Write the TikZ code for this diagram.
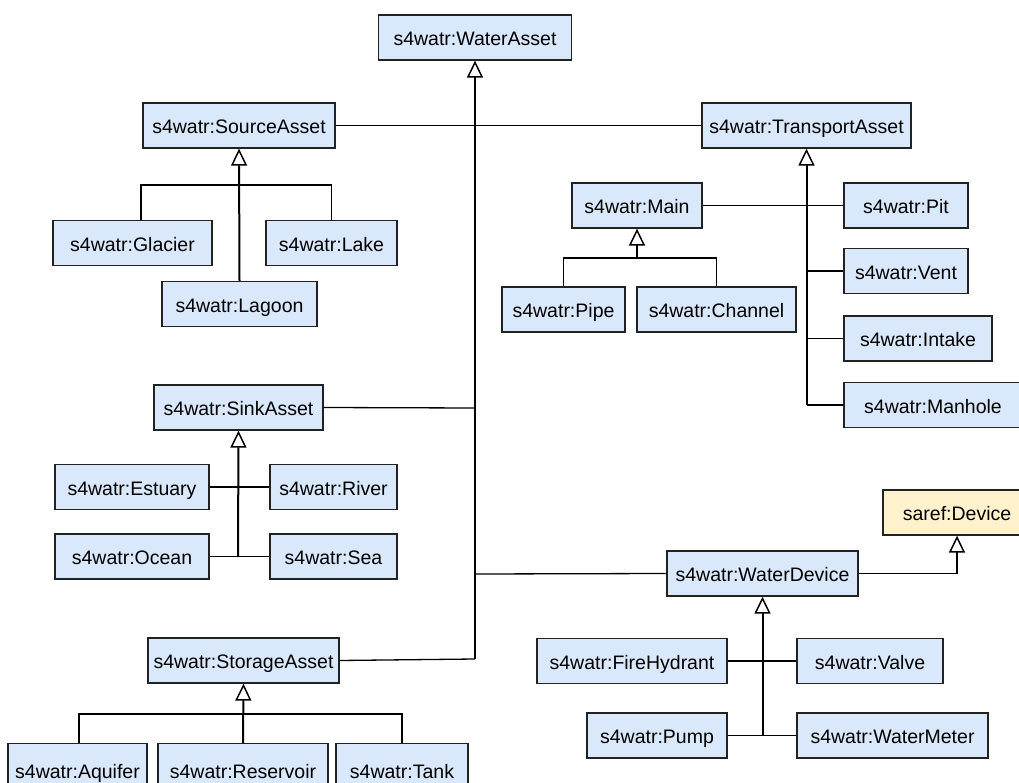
\documentclass[tikz,border=0pt]{standalone}
\usepackage{fontspec}
\setmainfont{Liberation Sans}
\usetikzlibrary{arrows.meta}
\definecolor{blueF}{HTML}{DAE8FC}
\definecolor{yelF}{HTML}{FFF2CC}
\definecolor{strk}{HTML}{222222}
\tikzset{
  cls/.style={draw=strk, fill=blueF, line width=1.3pt, inner sep=0pt, minimum height=45pt,
    text height=19.5pt, text depth=3pt, font=\fontsize{19.5}{22}\selectfont},
  ext/.style={cls, fill=yelF},
  conn/.style={draw=black, line width=1.3pt},
  gen/.style={draw=black, line width=2pt, -{Triangle[fill=white, length=17pt, width=16pt, line width=1.5pt]}},
}
\begin{document}
\begin{tikzpicture}[x=1pt, y=-1pt]
\useasboundingbox (0,0) rectangle (1019,783);
% nodes
\node[cls, minimum width=193] (wa) at (475,37.5) {s4watr:WaterAsset};
\node[cls, minimum width=192] (src) at (239,125.5) {s4watr:SourceAsset};
\node[cls, minimum width=209] (tr) at (806.5,125.5) {s4watr:TransportAsset};
\node[cls, minimum width=159] (glacier) at (132.5,243) {s4watr:Glacier};
\node[cls, minimum width=131] (lake) at (331.5,243) {s4watr:Lake};
\node[cls, minimum width=155] (lagoon) at (239.5,304) {s4watr:Lagoon};
\node[cls, minimum width=130] (main) at (637,205.5) {s4watr:Main};
\node[cls, minimum width=124] (pit) at (906,205.5) {s4watr:Pit};
\node[cls, minimum width=124] (vent) at (906,271) {s4watr:Vent};
\node[cls, minimum width=148] (intake) at (918,338.5) {s4watr:Intake};
\node[cls, minimum width=190] (manhole) at (939,405) {\hspace*{-12pt}s4watr:Manhole};
\node[cls, minimum width=123] (pipe) at (563.5,309.5) {s4watr:Pipe};
\node[cls, minimum width=159] (channel) at (716.5,309.5) {s4watr:Channel};
\node[cls, minimum width=169] (sink) at (238.5,407.5) {s4watr:SinkAsset};
\node[cls, minimum width=154] (estuary) at (132,487) {s4watr:Estuary};
\node[cls, minimum width=127] (river) at (333.5,487) {s4watr:River};
\node[cls, minimum width=154] (ocean) at (132,556.5) {s4watr:Ocean};
\node[cls, minimum width=127] (sea) at (333.5,556.5) {s4watr:Sea};
\node[ext, minimum width=150] (device) at (958,512.5) {\hspace*{-2pt}saref:Device};
\node[cls, minimum width=191] (wd) at (762.5,573.5) {s4watr:WaterDevice};
\node[cls, minimum width=190] (fh) at (632,661) {s4watr:FireHydrant};
\node[cls, minimum width=146] (valve) at (870,661) {s4watr:Valve};
\node[cls, minimum width=140] (pump) at (657,735.5) {s4watr:Pump};
\node[cls, minimum width=191] (meter) at (892.5,735.5) {s4watr:WaterMeter};
\node[cls, minimum width=191] (storage) at (243.5,660.5) {s4watr:StorageAsset};
\node[cls, minimum width=139, minimum height=60, anchor=north] (aquifer) at (77.5,743) {\raisebox{3pt}{s4watr:Aquifer}};
\node[cls, minimum width=170, minimum height=60, anchor=north] (reservoir) at (243,743) {\raisebox{3pt}{s4watr:Reservoir}};
\node[cls, minimum width=132, minimum height=60, anchor=north] (tank) at (402,743) {\raisebox{3pt}{s4watr:Tank}};
% junction coordinates
\coordinate (trunkBot) at (475,659);
\coordinate (jSink) at (475,408);
\coordinate (jWd) at (475,574);
\coordinate (srcbar) at (239,185);
\coordinate (trBot) at (806.5,405);
\coordinate (mainbar) at (637,258);
\coordinate (sinkBot) at (238,557);
\coordinate (stbar) at (243,714);
\coordinate (wdBot) at (762.5,736);
% WaterAsset hierarchy
\draw[gen] (trunkBot) -- (wa.south);
\draw[conn] (src.east) -- (tr.west);
\draw[conn] (sink.east) -- (jSink);
\draw[conn] (storage.east) -- (trunkBot);
\draw[conn] (wd.west) -- (jWd);
% SourceAsset
\draw[gen] (lagoon.north) -- (src.south);
\draw[conn] ([xshift=8.5pt]glacier.north) |- (srcbar) -| (lake.north);
% TransportAsset
\draw[gen] (trBot) -- (tr.south);
\draw[conn] (manhole.west |- trBot) -- (trBot);
\draw[conn] (intake.west) -- (intake.west -| trBot);
\draw[conn] (vent.west) -- (vent.west -| trBot);
\draw[conn] (main.east) -- (pit.west);
% Main
\draw[gen] (mainbar) -- (main.south);
\draw[conn] (pipe.north) |- (mainbar) -| (channel.north);
% SinkAsset
\draw[gen] (sinkBot) -- (sink.south);
\draw[conn] (estuary.east) -- (river.west);
\draw[conn] (ocean.east) -- (sea.west);
% StorageAsset
\draw[gen] (reservoir.north) -- (storage.south);
\draw[conn] ([xshift=1.5pt]aquifer.north) |- (stbar) -| (tank.north);
% WaterDevice
\draw[gen] (wdBot) -- (wd.south);
\draw[conn] (fh.east) -- (valve.west);
\draw[conn] (pump.east) -- (meter.west);
\draw[gen, line width=1.3pt] (wd.east) -| ([xshift=-1pt]device.south);
\end{tikzpicture}
\end{document}
